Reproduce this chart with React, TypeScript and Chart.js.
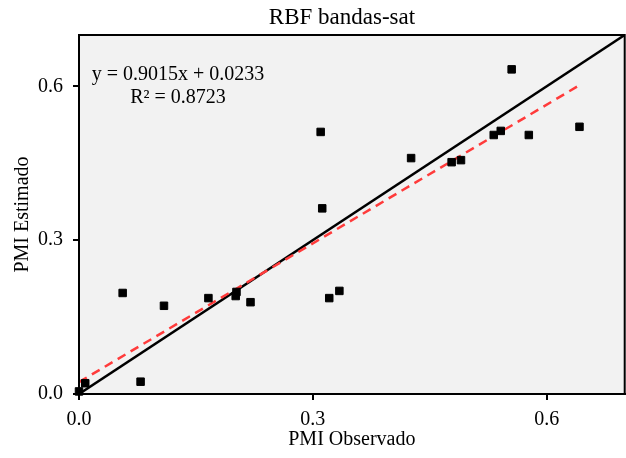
import React, { useEffect, useRef } from "react";
import { Chart, registerables } from "chart.js";

Chart.register(...registerables);

const chartTitle = "RBF bandas-sat";
const xAxisTitle = "PMI Observado";
const yAxisTitle = "PMI Estimado";

const pmiObservado = [0.0, 0.008, 0.056, 0.079, 0.109, 0.166, 0.202, 0.201, 0.22, 0.31, 0.312, 0.321, 0.334, 0.426, 0.478, 0.49, 0.532, 0.541, 0.555, 0.577, 0.642];
const pmiEstimado = [0.005, 0.021, 0.197, 0.024, 0.172, 0.187, 0.199, 0.191, 0.179, 0.511, 0.362, 0.187, 0.201, 0.46, 0.452, 0.456, 0.505, 0.513, 0.633, 0.505, 0.521];

const slope = 0.9015;
const intercept = 0.0233;
const rSquared = 0.8723;

const tickValues = [0, 0.3, 0.6];
const axisMin = 0;
const axisMax = 0.7;

const FONT = '"Liberation Serif", "Times New Roman", serif';

export default function App() {
  const ref = useRef<HTMLCanvasElement | null>(null);

  useEffect(() => {
    if (!ref.current) return;
    const points = pmiObservado.map((x, i) => ({ x, y: pmiEstimado[i] }));
    const xMaxData = Math.max(...pmiObservado);
    const xMinData = Math.min(...pmiObservado);
    const regLine = [
      { x: xMinData, y: slope * xMinData + intercept },
      { x: xMaxData, y: slope * xMaxData + intercept },
    ];
    const identity = [
      { x: axisMin, y: axisMin },
      { x: axisMax, y: axisMax },
    ];

    const decor = {
      id: "decor",
      beforeDraw(chart: any) {
        const { ctx, chartArea: a } = chart;
        ctx.save();
        ctx.fillStyle = "#ffffff";
        ctx.fillRect(0, 0, chart.width, chart.height);
        ctx.fillStyle = "#f2f2f2";
        ctx.fillRect(a.left, a.top, a.right - a.left, a.bottom - a.top);
        ctx.restore();
      },
      afterDraw(chart: any) {
        const { ctx, chartArea: a } = chart;
        ctx.save();
        ctx.strokeStyle = "#000";
        ctx.lineWidth = 2;
        ctx.strokeRect(a.left, a.top, a.right - a.left, a.bottom - a.top);
        ctx.fillStyle = "#000";
        ctx.textAlign = "center";
        ctx.textBaseline = "middle";
        ctx.font = `23px ${FONT}`;
        ctx.fillText(chartTitle, 342, 18);
        ctx.font = `20px ${FONT}`;
        ctx.fillText(`y = ${slope.toFixed(4)}x + ${intercept.toFixed(4)}`, 178, 75);
        ctx.fillText(`R² = ${rSquared.toFixed(4)}`, 178, 98);
        ctx.restore();
      },
    };

    const chart = new Chart(ref.current, {
      type: "scatter",
      data: {
        datasets: [
          {
            label: "PMI",
            data: points,
            showLine: false,
            pointStyle: "rect",
            pointRadius: 5.3,
            pointBorderWidth: 1,
            backgroundColor: "#000",
            borderColor: "#000",
            clip: false,
            order: 0,
          } as any,
          {
            label: "1:1",
            data: identity,
            showLine: true,
            borderColor: "#000",
            borderWidth: 2.5,
            pointRadius: 0,
            order: 2,
          },
          {
            label: "Regresión",
            data: regLine,
            showLine: true,
            borderColor: "#ff3b3b",
            borderWidth: 2.5,
            borderDash: [9, 6],
            pointRadius: 0,
            order: 1,
          },
        ],
      },
      options: {
        animation: false,
        responsive: true,
        maintainAspectRatio: false,
        layout: { padding: { top: 35, right: 0, left: 0, bottom: 0 } },
        plugins: {
          legend: { display: false },
          tooltip: { enabled: false },
          title: { display: false },
        },
        scales: {
          x: {
            type: "linear",
            min: axisMin,
            max: axisMax,
            afterBuildTicks: (s: any) => {
              s.ticks = tickValues.map((v) => ({ value: v }));
            },
            afterFit: (s: any) => {
              s.height = 64;
              s.paddingLeft = 0;
              s.paddingRight = 0;
            },
            grid: {
              drawOnChartArea: false,
              drawTicks: true,
              tickLength: 6,
              color: "#000",
              lineWidth: 2,
            },
            border: { display: true, color: "#000", width: 2 },
            ticks: {
              color: "#000",
              font: { family: FONT, size: 20 },
              padding: 8,
              maxRotation: 0,
              callback: (v: any) => Number(v).toFixed(1),
            },
            title: {
              display: true,
              text: xAxisTitle,
              color: "#000",
              font: { family: FONT, size: 20 },
              padding: { top: 0, bottom: 6 },
            },
          },
          y: {
            type: "linear",
            min: axisMin,
            max: axisMax,
            afterBuildTicks: (s: any) => {
              s.ticks = tickValues.map((v) => ({ value: v }));
            },
            afterFit: (s: any) => {
              s.width = 79;
              s.paddingTop = 0;
              s.paddingBottom = 0;
            },
            grid: {
              drawOnChartArea: false,
              drawTicks: true,
              tickLength: 6,
              color: "#000",
              lineWidth: 2,
            },
            border: { display: true, color: "#000", width: 2 },
            ticks: {
              color: "#000",
              font: { family: FONT, size: 20 },
              padding: 10,
              callback: (v: any) => Number(v).toFixed(1),
            },
            title: {
              display: true,
              text: yAxisTitle,
              color: "#000",
              font: { family: FONT, size: 20 },
              padding: { top: 11, bottom: 0 },
            },
          },
        },
      },
      plugins: [decor],
    });
    return () => chart.destroy();
  }, []);

  return (
    <div style={{ position: "absolute", left: 0, top: 0, width: 626, height: 458, overflow: "hidden", background: "#fff" }}>
      <div style={{ position: "absolute", left: 0, top: 0, width: 631, height: 458 }}>
        <canvas ref={ref} />
      </div>
    </div>
  );
}
